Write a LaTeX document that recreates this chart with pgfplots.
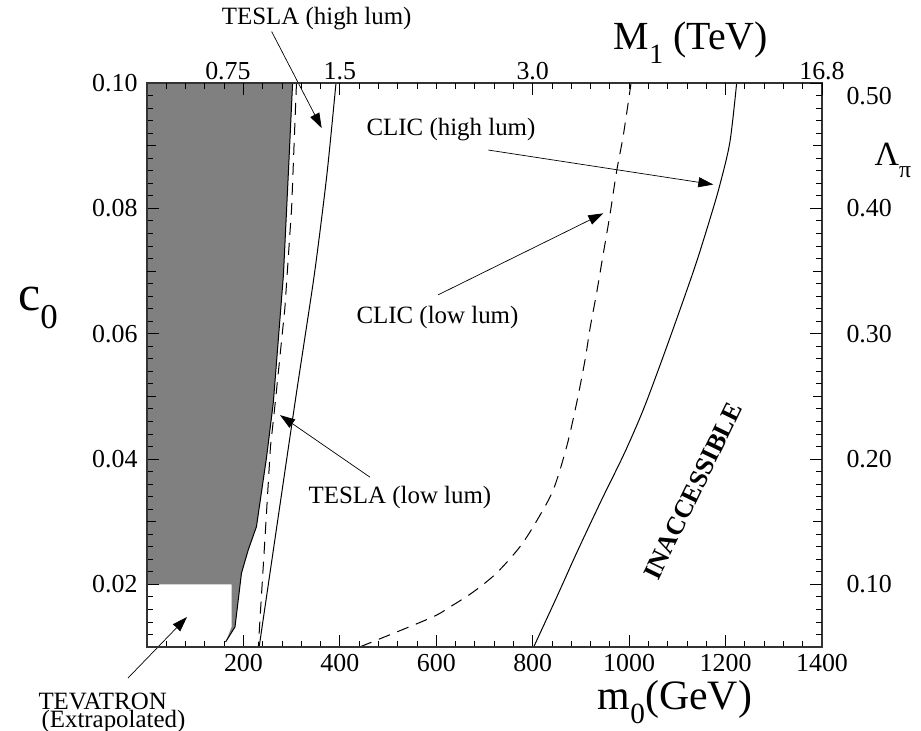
\documentclass[border=0pt]{standalone}
\usepackage{graphicx}
\usepackage{pgfplots}
\pgfplotsset{compat=1.18}
\usetikzlibrary{arrows.meta}
\usepackage{fontspec}
\setmainfont{Liberation Serif}
\newcommand\sub[1]{\raisebox{-0.35em}{\scalebox{0.7}{#1}}}
\newcommand\ann{\fontsize{25}{25}\selectfont}
\begin{document}
\begin{tikzpicture}
\begin{axis}[name=ax, scale only axis, width=675bp, height=564bp,
  xmin=0, xmax=1400, ymin=0.01, ymax=0.10, clip=false, axis on top,
  xtick={200,400,...,1400}, minor xtick={40,80,...,1400},
  ytick={0.02,0.04,0.06,0.08,0.10},
  minor ytick={0.012,0.014,...,0.1},
  extra y ticks={0.03,0.05,0.07,0.09}, extra y tick labels={},
  extra y tick style={grid=none, major tick length=9bp},
  xtick pos=left, ytick pos=left, tick align=inside,
  major tick length=12bp, minor tick length=6bp,
  every tick/.style={black, line width=0.8bp},
  axis line style={black!80, line width=1.3bp},
  tick label style={font=\fontsize{26}{26}\selectfont},
  /pgf/number format/assume math mode=true,
  xticklabel style={yshift=-4bp, /pgf/number format/1000 sep={}},
  yticklabel style={xshift=-6bp, /pgf/number format/fixed, /pgf/number format/fixed zerofill, /pgf/number format/precision=2},
]
% shaded region
\addplot[fill=black!50, draw=none] coordinates {(0,0.1) (302,0.1) (293,0.0853) (283,0.0694) (262,0.049) (248,0.0403) (227,0.0292) (210,0.0255) (196,0.0218) (182.5,0.0132) (163,0.0108) (175.6,0.0132) (175.6,0.02) (0,0.02)} -- cycle;
\addplot[black, line width=1bp] coordinates {(302,0.1) (293,0.0853) (283,0.0694) (262,0.049) (248,0.0403) (227,0.0292) (210,0.0255) (196,0.0218) (182.5,0.0132) (163,0.0108)};
% TESLA
\addplot[black, line width=1bp, dash pattern=on 12bp off 8bp] coordinates {(310,0.1) (300,0.0801) (286,0.0641) (266,0.049) (256,0.0419) (244.5,0.0271) (236,0.0165) (232,0.0114) (231,0.01)};
\addplot[black, line width=1bp, smooth, tension=0.4] coordinates {(392,0.1) (373,0.0853) (347,0.0694) (307,0.049) (232.6,0.01)};
% CLIC
\addplot[black, line width=1bp, dash pattern=on 12bp off 8bp, smooth, tension=0.5] coordinates {(1004,0.1) (988,0.0917) (974,0.0859) (960,0.0789) (946,0.0726) (933,0.0667) (919,0.0609) (908.5,0.0558) (891,0.0489) (870.5,0.042) (842.7,0.0351) (808,0.0301) (773.6,0.026) (725,0.0218) (677,0.0188) (628.5,0.0164) (587,0.0146) (441,0.01)};
\addplot[black, line width=1bp, smooth, tension=0.5] coordinates {(1223,0.1) (1209,0.0906) (1188,0.0837) (1168,0.0784) (1140,0.0715) (1109,0.0646) (1068,0.0558) (1029,0.0478) (990,0.0409) (943,0.0335) (891,0.025) (850,0.018) (802,0.01)};
% annotations
\node[font=\ann] at (axis cs:352,0.1103) {TESLA (high lum)};
\draw[line width=0.7bp, -{Triangle[length=15bp,width=10bp]}] (axis cs:258.6,0.1082) -- (axis cs:362.3,0.0928);
\node[font=\ann] at (axis cs:630.5,0.0925) {CLIC (high lum)};
\draw[line width=0.7bp, -{Triangle[length=15bp,width=10bp]}] (axis cs:708,0.0893) -- (axis cs:1174.6,0.0838);
\node[font=\ann] at (axis cs:602.5,0.0625) {CLIC (low lum)};
\draw[line width=0.7bp, -{Triangle[length=15bp,width=10bp]}] (axis cs:604,0.0662) -- (axis cs:946.4,0.0792);
\node[font=\ann] at (axis cs:524.7,0.0338) {TESLA (low lum)};
\draw[line width=0.7bp, -{Triangle[length=15bp,width=10bp]}] (axis cs:462.5,0.0371) -- (axis cs:275.9,0.0470);
\node[font=\ann, anchor=base west] at (axis cs:-232.3,-0.00005) {TEVATRON};
\node[font=\ann, anchor=base west] at (axis cs:-226,-0.00277) {(Extrapolated)};
\draw[line width=0.7bp, -{Triangle[length=15bp,width=10bp]}] (axis cs:-39.4,0.00505) -- (axis cs:83,0.01479);
\node[font=\fontsize{26}{26}\selectfont\bfseries, rotate=64] at (axis cs:1132.5,0.0349) {INACCESSIBLE};
% axis labels
\node[font=\fontsize{40}{40}\selectfont] at (axis cs:1128,0.1064) {M\sub{1} (TeV)};
\node[font=\fontsize{42}{42}\selectfont] at (axis cs:1095,0.00122) {m\sub{0}(GeV)};
\node[font=\fontsize{50}{50}\selectfont] at (axis cs:-226,0.0641) {c\sub{0}};
\node[font=\fontsize{34}{34}\selectfont] at (axis cs:1547,0.0877) {Λ\sub{π}};
\end{axis}
\begin{axis}[scale only axis, width=675bp, height=564bp, at={(ax.south west)}, anchor=south west,
  xmin=0, xmax=1400, ymin=0.05, ymax=0.5,
  axis line style={draw=none},
  xtick pos=right, ytick pos=right, tick align=inside,
  xtick={200,400,800,1200,1400}, xticklabels={{\hspace*{-31bp}0.75},1.5,3.0,{},16.8},
  minor xtick={40,80,...,1400},
  ytick={0.1,0.2,0.3,0.4,0.5}, yticklabels={0.10,0.20,0.30,0.40,{\smash{\raisebox{-22bp}{0.50}}}},
  minor ytick={0.06,0.07,...,0.5},
  extra y ticks={0.15,0.25,0.35,0.45}, extra y tick labels={},
  extra y tick style={grid=none, major tick length=9bp},
  major tick length=12bp, minor tick length=6bp,
  every tick/.style={black, line width=0.8bp},
  tick label style={font=\fontsize{26}{26}\selectfont},
  yticklabel style={xshift=21bp},
]
\end{axis}
\pgfresetboundingbox
\path[use as bounding box] ([shift={(-147bp,-84bp)}]ax.south west) rectangle ([shift={(99bp,83bp)}]ax.north east);
\end{tikzpicture}
\end{document}
